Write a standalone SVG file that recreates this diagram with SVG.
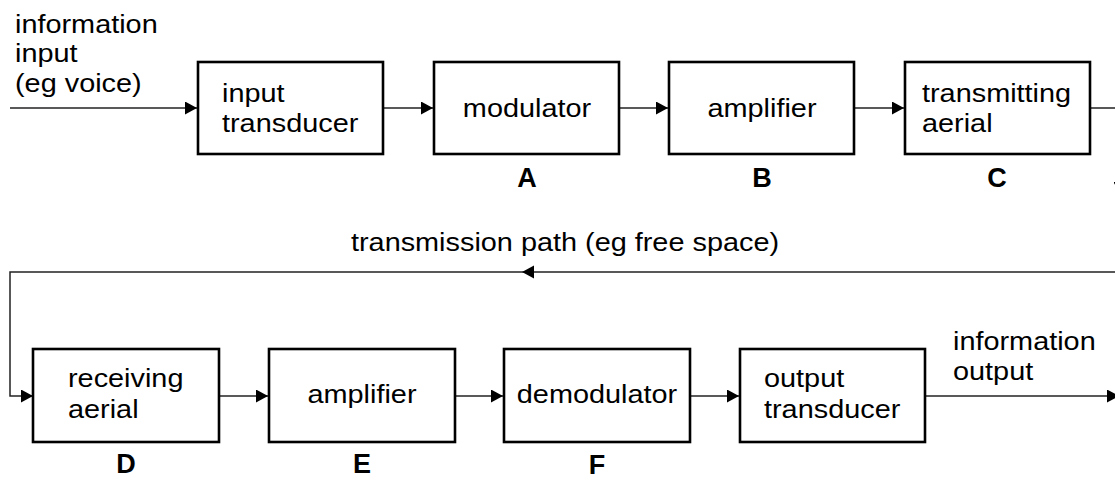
<svg xmlns="http://www.w3.org/2000/svg" width="1115" height="480" viewBox="0 0 1115 480">
<style>
.box{fill:#fff;stroke:#000;stroke-width:2.6}
.t{font-family:"Liberation Sans",Arial,sans-serif;font-size:26px;fill:#000}
.b{font-family:"Liberation Sans",Arial,sans-serif;font-size:27px;font-weight:bold;fill:#000}
.c{fill:none;stroke:#222;stroke-width:1.5}
</style>
<defs>
<marker id="ah" viewBox="0 0 12 13" refX="12" refY="6.5" markerWidth="12" markerHeight="13" markerUnits="userSpaceOnUse" orient="auto">
<path d="M0,0 L12,6.5 L0,13 z" fill="#000"/>
</marker>
</defs>
<g id="connectors">
<line class="c" x1="10" y1="108" x2="197" y2="108" marker-end="url(#ah)"/>
<line class="c" x1="383" y1="108" x2="433" y2="108" marker-end="url(#ah)"/>
<line class="c" x1="619" y1="108" x2="668" y2="108" marker-end="url(#ah)"/>
<line class="c" x1="854" y1="108" x2="904" y2="108" marker-end="url(#ah)"/>
<polyline class="c" points="1090,108 1120,108 1120,194" marker-end="url(#ah)"/>
<polyline class="c" points="1125,272 10,272 10,396 33,396" marker-end="url(#ah)"/>
<path d="M522,272 L534,265.5 L534,278.5 z" fill="#000"/>
<line class="c" x1="219" y1="396" x2="268" y2="396" marker-end="url(#ah)"/>
<line class="c" x1="455" y1="396" x2="503" y2="396" marker-end="url(#ah)"/>
<line class="c" x1="690" y1="396" x2="739" y2="396" marker-end="url(#ah)"/>
<line class="c" x1="925" y1="396" x2="1119" y2="396" marker-end="url(#ah)"/>
</g>
<g id="label-input">
<text class="t" transform="translate(15,33) scale(1.11,1)"><tspan x="0" y="0">information</tspan><tspan x="0" y="29.5">input</tspan><tspan x="0" y="59">(eg voice)</tspan></text>
</g>
<g id="input-transducer">
<rect class="box" x="198" y="62" width="185" height="92"/>
<text class="t" transform="translate(222,102) scale(1.11,1)"><tspan x="0" y="0">input</tspan><tspan x="0" y="30">transducer</tspan></text>
</g>
<g id="modulator">
<rect class="box" x="434" y="62" width="185" height="92"/>
<text class="t" text-anchor="middle" transform="translate(527,117) scale(1.11,1)">modulator</text>
<text class="b" text-anchor="middle" x="527" y="187">A</text>
</g>
<g id="amplifier-tx">
<rect class="box" x="669" y="62" width="185" height="92"/>
<text class="t" text-anchor="middle" transform="translate(762,117) scale(1.11,1)">amplifier</text>
<text class="b" text-anchor="middle" x="762" y="187">B</text>
</g>
<g id="transmitting-aerial">
<rect class="box" x="905" y="62" width="185" height="92"/>
<text class="t" transform="translate(922,102) scale(1.11,1)"><tspan x="0" y="0">transmitting</tspan><tspan x="0" y="30">aerial</tspan></text>
<text class="b" text-anchor="middle" x="997" y="187">C</text>
</g>
<g id="label-path">
<text class="t" text-anchor="middle" transform="translate(565,251) scale(1.11,1)">transmission path (eg free space)</text>
</g>
<g id="receiving-aerial">
<rect class="box" x="33" y="349" width="186" height="93"/>
<text class="t" transform="translate(68,387) scale(1.11,1)"><tspan x="0" y="0">receiving</tspan><tspan x="0" y="31">aerial</tspan></text>
<text class="b" text-anchor="middle" x="126" y="473">D</text>
</g>
<g id="amplifier-rx">
<rect class="box" x="269" y="349" width="186" height="93"/>
<text class="t" text-anchor="middle" transform="translate(362,403) scale(1.11,1)">amplifier</text>
<text class="b" text-anchor="middle" x="362" y="473">E</text>
</g>
<g id="demodulator">
<rect class="box" x="504" y="349" width="186" height="93"/>
<text class="t" text-anchor="middle" transform="translate(597,403) scale(1.11,1)">demodulator</text>
<text class="b" text-anchor="middle" x="597" y="474">F</text>
</g>
<g id="output-transducer">
<rect class="box" x="740" y="349" width="185" height="93"/>
<text class="t" transform="translate(764,387) scale(1.11,1)"><tspan x="0" y="0">output</tspan><tspan x="0" y="31">transducer</tspan></text>
</g>
<g id="label-output">
<text class="t" transform="translate(953,350) scale(1.11,1)"><tspan x="0" y="0">information</tspan><tspan x="0" y="30">output</tspan></text>
</g>
</svg>
